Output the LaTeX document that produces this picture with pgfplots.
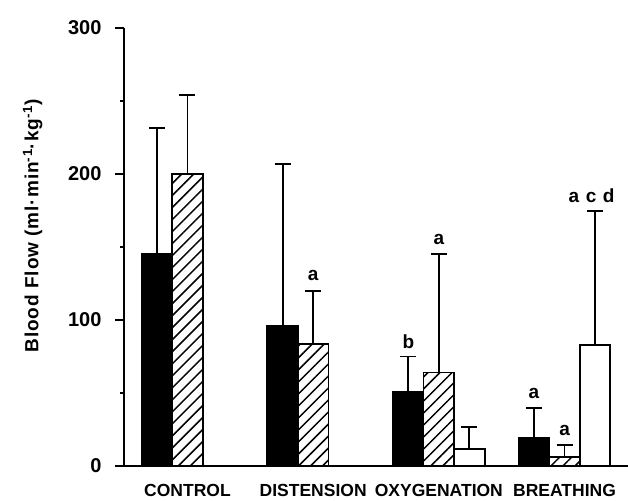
\documentclass[border=0pt]{standalone}
\usepackage{fontspec}
\setmainfont{Liberation Sans}
\usepackage{pgfplots}
\usepackage{pgfplotstable}
\pgfplotsset{compat=1.18}
\usetikzlibrary{patterns.meta}

\pgfplotstableread{
x y e
0 145.5 86
1 96 111
2 51 24
3 19.5 20.5
}\blackdata
\pgfplotstableread{
x y e
0 200 54
1 83.3 36.7
2 64 81
3 6.4 8.2
}\hatchdata
\pgfplotstableread{
x y e
0 0.4 0
2 11.6 15
3 82.7 91.7
}\whitedata

\pgfplotsset{
  myerr/.style={error bars/.cd, y dir=plus, y explicit, error mark=-,
    error bar style={line width=1.8pt, black, solid},
    error mark options={rotate=90, line width=1.8pt, black, mark size=8pt, solid}},
}

\begin{document}
\begin{tikzpicture}
\useasboundingbox (0,0) rectangle (628pt,500pt);
\begin{axis}[
  at={(124pt,34pt)}, anchor=south west,
  scale only axis, width=504pt, height=438pt,
  xmin=-0.505, xmax=3.505, ymin=0, ymax=300,
  axis lines*=left,
  axis line style={line width=1.8pt},
  clip=false,
  ybar=0pt,
  bar width=0.243,
  ytick={0,100,200,300},
  minor ytick={50,150,250},
  tick align=outside,
  major tick length=9pt, minor tick length=4pt,
  ytick style={line width=1.4pt, black},
  minor tick style={line width=1pt},
  xtick={0,1,2,3},
  xticklabels={CONTROL,DISTENSION,OXYGENATION,BREATHING},
  xtick style={draw=none},
  /pgf/number format/assume math mode=true,
  xticklabel style={font=\fontsize{17.5}{20}\selectfont\bfseries, yshift=-6pt},
  yticklabel style={font=\fontsize{20}{22}\selectfont\bfseries, xshift=-10pt},
  ylabel={Blood Flow (ml·min\textsuperscript{-1}·kg\textsuperscript{-1})},
  ylabel style={font=\fontsize{19}{22}\selectfont\bfseries\addfontfeature{LetterSpace=5}, at={(axis description cs:-0.181,0.548)}, anchor=center},
]
\addplot[fill=black, draw=black, line width=1.8pt, myerr]
  table[x=x, y=y, y error plus=e] {\blackdata};
\addplot[fill=white, draw=black, line width=1.8pt,
  postaction={pattern={Lines[angle=45,distance=8.5pt,line width=1.5pt]}}, myerr]
  table[x=x, y=y, y error plus=e] {\hatchdata};
\addplot[fill=white, draw=black, line width=1.8pt, myerr]
  table[x=x, y=y, y error plus=e] {\whitedata};
\begin{scope}[every node/.style={font=\fontsize{19}{22}\selectfont\bfseries, inner sep=0pt}]
\node at (axis cs:1.0,130.8) {a};
\node at (axis cs:1.757,85) {b};
\node at (axis cs:2.0,155) {a};
\node at (axis cs:2.757,50) {a};
\node at (axis cs:3.0,24) {a};
\node at (axis cs:3.215,185) {a\hspace{6.5pt}c\hspace{6.5pt}d};
\end{scope}
\end{axis}
\end{tikzpicture}
\end{document}
